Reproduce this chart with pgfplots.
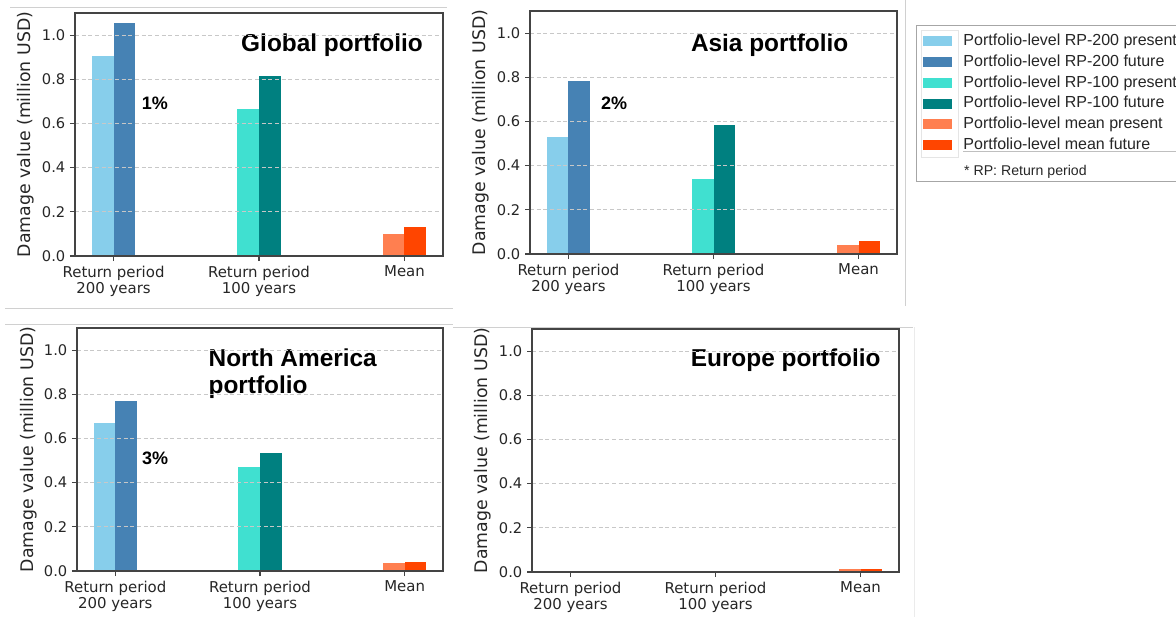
\documentclass[border=0pt]{standalone}
\usepackage{fontspec}
\setmainfont{DejaVu Sans}
\newfontfamily\arial{Liberation Sans}
\usepackage{pgfplots}
\pgfplotsset{compat=1.18}
\definecolor{skyb}{HTML}{87CEEB}
\definecolor{steelb}{HTML}{4682B4}
\definecolor{turq}{HTML}{40E0D0}
\definecolor{tealc}{HTML}{008080}
\definecolor{coralc}{HTML}{FF7F50}
\definecolor{orred}{HTML}{FF4500}
\definecolor{gridc}{HTML}{C8C8C8}
\definecolor{sepc}{HTML}{D0D0D0}
\definecolor{axc}{HTML}{444444}
\definecolor{txc}{HTML}{262626}

\tikzset{
  ttl/.style={anchor=base west, inner sep=0pt, font=\arial\bfseries\fontsize{18.3}{22}\selectfont},
  pct/.style={anchor=base west, inner sep=0pt, font=\arial\bfseries\fontsize{13.5}{16}\selectfont},
}
\pgfplotsset{
  mylegend/.style={legend image code/.code={\fill[##1] (0pt,-3.75pt) rectangle (21.75pt,3.75pt);}},
  bars/.style={fill=#1, draw=none, mylegend},
  panel/.style={
    scale only axis,
    ybar, bar width=0.15,
    xmin=-0.265, xmax=2.265, ymin=0, ymax=1.1,
    xtick={0,1,2},
    xticklabels={{Return period\\200 years},{Return period\\100 years},{Mean}},
    xticklabel style={align=center, font=\fontsize{11.2}{12.6}\selectfont, text=txc},
    ytick={0,0.2,0.4,0.6,0.8,1.0},
    yticklabel style={/pgf/number format/.cd, fixed, fixed zerofill, precision=1, /tikz/.cd, font=\fontsize{11}{12.5}\selectfont, text=txc},
    /pgf/number format/assume math mode=true,
    tick pos=left, tick align=outside,
    major tick length=3.75pt,
    every tick/.style={axc, line width=0.8pt},
    axis line style={axc, line width=1pt},
    ymajorgrids,
    grid style={gridc, line width=0.75pt, dash pattern=on 3pt off 2pt},
    axis on top,
    ylabel={Damage value (million USD)},
    ylabel style={at={(axis description cs:-0.133,0.5)}, anchor=center, font=\fontsize{13}{15}\selectfont, text=txc},
  },
}

\begin{document}
\begin{tikzpicture}
\useasboundingbox (0pt,0pt) rectangle (882pt,-462.75pt);
% light separator lines of the composite
\draw[sepc, line width=0.75pt] (7.5pt,-6pt) -- (335.25pt,-6pt);
\draw[sepc, line width=0.75pt] (3.75pt,-231pt) -- (339.75pt,-231pt);
\draw[sepc, line width=0.75pt] (3.75pt,-243pt) -- (339.75pt,-243pt);
\draw[sepc, line width=0.75pt] (339.75pt,-245.25pt) -- (684.75pt,-245.25pt);
\draw[sepc, line width=0.75pt] (678.75pt,0pt) -- (678.75pt,-229.5pt);
\draw[black!8, line width=0.75pt] (685.5pt,-245.25pt) -- (685.5pt,-462.75pt);

% ---------- Global ----------
\begin{axis}[panel, at={(56.25pt,-192pt)}, anchor=south west, width=276pt, height=182.25pt]
\addplot[bars=skyb, bar shift=-0.075] coordinates {(0,0.905)};
\addplot[bars=steelb, bar shift=0.075] coordinates {(0,1.053)};
\addplot[bars=turq, bar shift=-0.075] coordinates {(1,0.667)};
\addplot[bars=tealc, bar shift=0.075] coordinates {(1,0.814)};
\addplot[bars=coralc, bar shift=-0.075] coordinates {(2,0.098)};
\addplot[bars=orred, bar shift=0.075] coordinates {(2,0.130)};
\node[ttl] at (rel axis cs:0.451,0.840) {Global portfolio};
\node[pct] at (rel axis cs:0.181,0.601) {1\%};
\end{axis}

% ---------- Asia ----------
\begin{axis}[panel, at={(397.5pt,-190.5pt)}, anchor=south west, width=275.25pt, height=182.25pt,
  legend style={at={(rel axis cs:1.052,0.941)}, anchor=north west, draw=black!35, line width=0.6pt,
    font=\arial\fontsize{12}{14}\selectfont, text=txc,
    nodes={inner sep=0pt, text height=8.8pt, text depth=2.4pt, anchor=west},
    row sep=4.4pt, column sep=0pt, inner xsep=5pt, inner ysep=6pt},
  legend cell align=left]
\addplot[bars=skyb, bar shift=-0.075] coordinates {(0,0.531)};
\addlegendentry{\hspace{8.5pt}Portfolio-level RP-200 present}
\addplot[bars=steelb, bar shift=0.075] coordinates {(0,0.783)};
\addlegendentry{\hspace{8.5pt}Portfolio-level RP-200 future}
\addplot[bars=turq, bar shift=-0.075] coordinates {(1,0.339)};
\addlegendentry{\hspace{8.5pt}Portfolio-level RP-100 present}
\addplot[bars=tealc, bar shift=0.075] coordinates {(1,0.582)};
\addlegendentry{\hspace{8.5pt}Portfolio-level RP-100 future}
\addplot[bars=coralc, bar shift=-0.075] coordinates {(2,0.039)};
\addlegendentry{\hspace{8.5pt}Portfolio-level mean present}
\addplot[bars=orred, bar shift=0.075] coordinates {(2,0.059)};
\addlegendentry{\hspace{8.5pt}Portfolio-level mean future}
\addlegendimage{empty legend}
\addlegendentry{\hspace{9pt}\raisebox{-4pt}{\fontsize{10.6}{12}\selectfont * RP: Return period}}
\node[ttl] at (rel axis cs:0.438,0.833) {Asia portfolio};
\node[pct] at (rel axis cs:0.193,0.593) {2\%};
\end{axis}
% faint inner frames of the legend table
\draw[black!10, line width=0.6pt] (690.75pt,-22.5pt) rectangle (718.5pt,-117.75pt);
\draw[black!25, line width=0.6pt] (722.25pt,-113.25pt) -- (882pt,-113.25pt);

% ---------- North America ----------
\begin{axis}[panel, at={(57.75pt,-428.25pt)}, anchor=south west, width=274.5pt, height=182.25pt]
\addplot[bars=skyb, bar shift=-0.075] coordinates {(0,0.672)};
\addplot[bars=steelb, bar shift=0.075] coordinates {(0,0.769)};
\addplot[bars=turq, bar shift=-0.075] coordinates {(1,0.473)};
\addplot[bars=tealc, bar shift=0.075] coordinates {(1,0.536)};
\addplot[bars=coralc, bar shift=-0.075] coordinates {(2,0.035)};
\addplot[bars=orred, bar shift=0.075] coordinates {(2,0.041)};
\node[ttl] at (rel axis cs:0.359,0.841) {North America};
\node[ttl] at (rel axis cs:0.359,0.731) {portfolio};
\node[pct] at (rel axis cs:0.177,0.439) {3\%};
\end{axis}

% ---------- Europe ----------
\begin{axis}[panel, at={(399pt,-429pt)}, anchor=south west, width=275.25pt, height=182.25pt]
\addplot[bars=skyb, bar shift=-0.075] coordinates {(0,0)};
\addplot[bars=steelb, bar shift=0.075] coordinates {(0,0)};
\addplot[bars=turq, bar shift=-0.075] coordinates {(1,0)};
\addplot[bars=tealc, bar shift=0.075] coordinates {(1,0)};
\addplot[bars=coralc, bar shift=-0.075] coordinates {(2,0.012)};
\addplot[bars=orred, bar shift=0.075] coordinates {(2,0.013)};
\node[ttl] at (rel axis cs:0.432,0.845) {Europe portfolio};
\end{axis}
\end{tikzpicture}
\end{document}
